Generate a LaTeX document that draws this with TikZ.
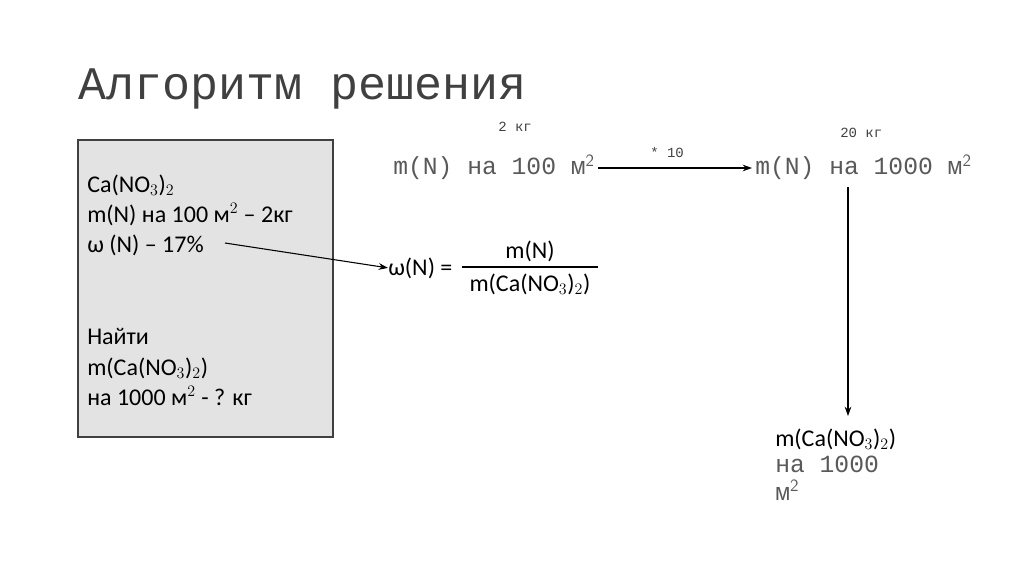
\documentclass[tikz,border=0pt]{standalone}
\usepackage{fontspec}
\setmainfont{Carlito}
\newfontfamily\monof{Liberation Mono}
\usetikzlibrary{arrows.meta}
\definecolor{tgray}{HTML}{404040}
\definecolor{mgray}{HTML}{595959}
\tikzset{
 mono/.style={font=\monof\fontsize{18.5}{22}\selectfont,text=mgray,inner sep=0pt,anchor=base west},
 small/.style={font=\monof\fontsize{10.5}{12}\selectfont,text=tgray,inner sep=0pt,anchor=base west},
 sans/.style={font=\fontsize{18}{22}\selectfont,inner sep=0pt,anchor=base west},
 arr/.style={-{Stealth[length=7pt,width=5pt]},thick}
}
\begin{document}
\begin{tikzpicture}[x=0.75pt,y=-0.75pt]
\useasboundingbox (0,0) rectangle (1024,574);
\node[anchor=base west,inner sep=0pt,font=\monof\fontsize{35}{40}\selectfont,text=tgray] (title) at (78,100) {Алгоритм решения};
\draw[fill=gray!22,draw=tgray,thick] (78,140) rectangle (333,437);
\node[sans] (l1) at (87,192) {Ca(NO$_3$)$_2$};
\node[sans] (l2) at (87,222) {m(N) на 100 м$^2$ – 2кг};
\node[sans] (l3) at (87,252) {ω (N) – 17\%};
\node[sans] (l4) at (87,344) {Найти};
\node[sans] (l5) at (87,375) {m(Ca(NO$_3$)$_2$)};
\node[sans] (l6) at (87,405) {на 1000 м$^2$ - ? кг};
\node[small] (k2) at (498,132) {2 кг};
\node[mono] (m100) at (393,175) {m(N) на 100 м$^{\mathsf 2}$};
\node[small] (t10) at (650,158) {* 10};
\node[small] (k20) at (840,138) {20 кг};
\node[mono] (m1000) at (755,175) {m(N) на 1000 м$^{\mathsf 2}$};
\coordinate (a1) at (598,168);
\coordinate (a2) at (752,168);
\draw[arr] (a1) -- (a2);
\coordinate (v1) at (848,187);
\coordinate (v2) at (848,416);
\draw[arr] (v1) -- (v2);
\node[sans] (r1) at (775,446) {m(Ca(NO$_3$)$_2$)};
\node[mono] (r2) at (775,472) {на 1000};
\node[mono] (r3) at (775,500) {м$^{\mathsf 2}$};
\node[sans] (w) at (388,275) {ω(N) =};
\node[sans,anchor=base] (num) at (530,258) {m(N)};
\node[sans,anchor=base] (den) at (530,291) {m(Ca(NO$_3$)$_2$)};
\draw[thick] (462,267) -- (598,267);
\coordinate (s1) at (225,243);
\draw[arr] (s1) -- (w.west);
\end{tikzpicture}
\end{document}
